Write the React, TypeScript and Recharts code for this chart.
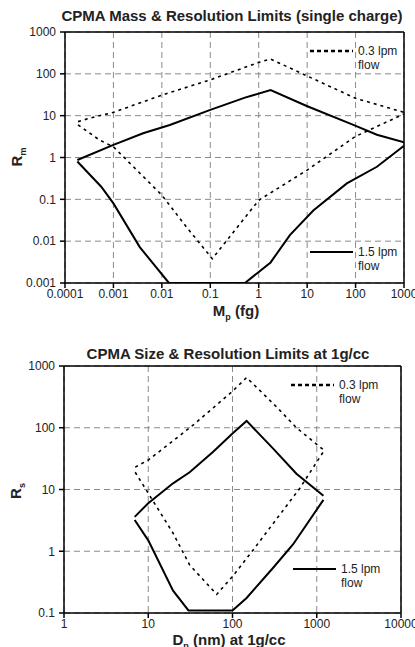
import { LineChart, Line, XAxis, YAxis, CartesianGrid, ReferenceLine } from "recharts";

// ---- mass chart (top) ----
const massXTicks = [0.0001, 0.001, 0.01, 0.1, 1, 10, 100, 1000];
const massYTicks = [0.001, 0.01, 0.1, 1, 10, 100, 1000];

// 1.5 lpm flow (solid), upper and lower branches of the loop
const massHighUpper: [number, number][] = [
  [0.00018, 0.87], [0.001, 2.0], [0.0041, 3.8], [0.0146, 6.0], [0.1, 13.8],
  [0.52, 27], [1.76, 41], [9.8, 17], [90, 6], [276, 3.5], [1000, 2.3],
];
const massHighLower: [number, number][] = [
  [0.00018, 0.8], [0.00056, 0.2], [0.001, 0.08], [0.0035, 0.0072], [0.014, 0.001],
  [0.52, 0.001], [1.76, 0.0031], [4.4, 0.014], [13.4, 0.054], [66, 0.24], [276, 0.6], [1000, 1.9],
];
// 0.3 lpm flow (dashed)
const massLowUpper: [number, number][] = [
  [0.000186, 7.2], [0.00032, 8.7], [0.001, 12], [0.01, 31], [0.1, 72],
  [1, 188], [1.76, 225], [10, 89], [100, 26], [1000, 12],
];
const massLowLower: [number, number][] = [
  [0.000186, 6], [0.00052, 2.6], [0.001, 1.8], [0.01, 0.126], [0.032, 0.022],
  [0.11, 0.0038], [1, 0.095], [10, 0.5], [100, 3.2], [1000, 11],
];

// ---- size chart (bottom) ----
const sizeXTicks = [1, 10, 100, 1000, 10000];
const sizeYTicks = [0.1, 1, 10, 100, 1000];

const sizeHighUpper: [number, number][] = [
  [6.9, 3.6], [10, 6], [19.7, 12.6], [31, 19], [59, 41], [100, 81],
  [147, 129], [304, 46], [574, 18], [1200, 7.9],
];
const sizeHighLower: [number, number][] = [
  [6.9, 3.2], [10, 1.5], [19.7, 0.23], [30, 0.11], [100, 0.11],
  [147, 0.175], [304, 0.54], [525, 1.3], [1200, 6.8],
];
const sizeLowUpper: [number, number][] = [
  [7, 23], [10, 30], [15, 46], [34, 110], [100, 390], [147, 650],
  [333, 218], [574, 100], [1200, 44],
];
const sizeLowLower: [number, number][] = [
  [7, 19], [10, 8.7], [19.7, 1.96], [31, 0.6], [65, 0.2], [100, 0.39],
  [176, 1.05], [630, 10.5], [1200, 41],
];

const font = "'Liberation Sans', Arial, sans-serif";
const toPts = (arr: [number, number][]) => arr.map(([x, y]) => ({ x, y }));

type Series = { data: [number, number][]; dashed: boolean };

interface PanelProps {
  top: number;
  height: number;
  margin: { top: number; right: number; bottom: number; left: number };
  xTicks: number[];
  yTicks: number[];
  series: Series[];
}

function Panel({ top, height, margin, xTicks, yTicks, series }: PanelProps) {
  const xDom = [xTicks[0], xTicks[xTicks.length - 1]];
  const yDom = [yTicks[0], yTicks[yTicks.length - 1]];
  return (
    <div style={{ position: "absolute", left: 0, top }}>
      <LineChart width={415} height={height} margin={margin}>
        <CartesianGrid stroke="#8a8a8a" strokeDasharray="6 4" strokeWidth={1} />
        <XAxis
          dataKey="x"
          type="number"
          scale="log"
          domain={xDom}
          ticks={xTicks}
          allowDataOverflow
          interval={0}
          height={30}
          tickSize={5}
          tickMargin={1}
          stroke="#000"
          strokeWidth={1.5}
          tick={{ fontSize: 12, fill: "#222", fontFamily: font }}
          tickFormatter={(v: number) => String(v)}
        />
        <YAxis
          dataKey="y"
          type="number"
          scale="log"
          domain={yDom}
          ticks={yTicks}
          allowDataOverflow
          interval={0}
          width={40}
          tickSize={5}
          tickMargin={4}
          stroke="#000"
          strokeWidth={1.5}
          tick={{ fontSize: 12, fill: "#222", fontFamily: font }}
          tickFormatter={(v: number) => String(v)}
        />
        <ReferenceLine y={yDom[1]} stroke="#000" strokeWidth={1.5} ifOverflow="visible" />
        <ReferenceLine x={xDom[1]} stroke="#000" strokeWidth={1.5} ifOverflow="visible" />
        {series.map((s, i) => (
          <Line
            key={i}
            data={toPts(s.data)}
            dataKey="y"
            type="linear"
            stroke="#000"
            strokeWidth={s.dashed ? 1.6 : 2}
            strokeDasharray={s.dashed ? "3 4" : undefined}
            dot={false}
            activeDot={false}
            isAnimationActive={false}
          />
        ))}
      </LineChart>
    </div>
  );
}

function LegendItem({ x, y, dashed, label }: { x: number; y: number; dashed: boolean; label: string }) {
  return (
    <div style={{ position: "absolute", left: x, top: y, display: "flex", fontFamily: font, fontSize: 12, color: "#222" }}>
      <svg width={46} height={14}>
        <line x1={1} y1={7} x2={44} y2={7} stroke="#000" strokeWidth={dashed ? 2.5 : 2} strokeDasharray={dashed ? "4 3" : undefined} />
      </svg>
      <div style={{ marginLeft: 3, lineHeight: "14px" }}>
        {label}
        <br />
        flow
      </div>
    </div>
  );
}

const titleStyle: React.CSSProperties = {
  position: "absolute",
  fontFamily: font,
  fontWeight: "bold",
  fontSize: 15,
  color: "#222",
  whiteSpace: "nowrap",
  transform: "translateX(-50%)",
};
const axisStyle: React.CSSProperties = { ...titleStyle, fontSize: 15 };

export default function App() {
  return (
    <div style={{ position: "absolute", left: 0, top: 0, width: 415, height: 647, background: "#fff", overflow: "hidden" }}>
      <Panel
        top={0}
        height={320}
        margin={{ top: 32, right: 11, bottom: 7, left: 25 }}
        xTicks={massXTicks}
        yTicks={massYTicks}
        series={[
          { data: massHighUpper, dashed: false },
          { data: massHighLower, dashed: false },
          { data: massLowUpper, dashed: true },
          { data: massLowLower, dashed: true },
        ]}
      />
      <Panel
        top={320}
        height={327}
        margin={{ top: 46, right: 14, bottom: 4, left: 24 }}
        xTicks={sizeXTicks}
        yTicks={sizeYTicks}
        series={[
          { data: sizeHighUpper, dashed: false },
          { data: sizeHighLower, dashed: false },
          { data: sizeLowUpper, dashed: true },
          { data: sizeLowLower, dashed: true },
        ]}
      />

      <div style={{ ...titleStyle, left: 232, top: 7 }}>CPMA Mass &amp; Resolution Limits (single charge)</div>
      <div style={{ ...titleStyle, left: 228, top: 345 }}>CPMA Size &amp; Resolution Limits at 1g/cc</div>

      <div style={{ ...axisStyle, left: 236, top: 302 }}>
        M<sub style={{ fontSize: 9 }}>p</sub> (fg)
      </div>
      <div style={{ ...axisStyle, left: 229, top: 631 }}>
        D<sub style={{ fontSize: 9 }}>p</sub> (nm) at 1g/cc
      </div>
      <div style={{ ...axisStyle, left: 18, top: 147, transform: "translateX(-50%) rotate(-90deg)" }}>
        R<sub style={{ fontSize: 9 }}>m</sub>
      </div>
      <div style={{ ...axisStyle, left: 17, top: 481, transform: "translateX(-50%) rotate(-90deg)" }}>
        R<sub style={{ fontSize: 9 }}>s</sub>
      </div>

      <LegendItem x={309} y={44} dashed label="0.3 lpm" />
      <LegendItem x={309} y={245} dashed={false} label="1.5 lpm" />
      <LegendItem x={290} y={378} dashed label="0.3 lpm" />
      <LegendItem x={292} y={562} dashed={false} label="1.5 lpm" />
    </div>
  );
}
